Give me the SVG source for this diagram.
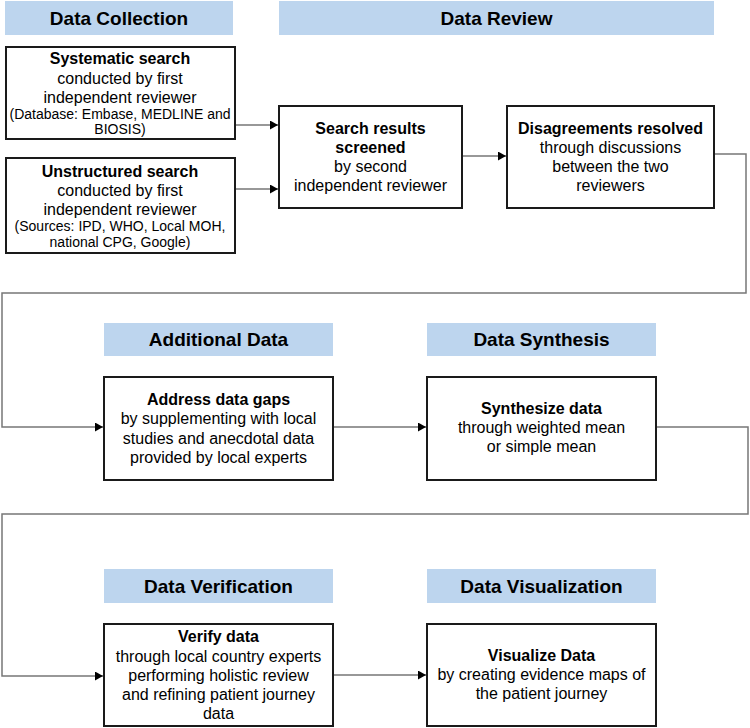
<svg xmlns="http://www.w3.org/2000/svg" width="750" height="728" viewBox="0 0 750 728">
<defs>
<marker id="arr" markerUnits="userSpaceOnUse" markerWidth="9" markerHeight="9" refX="8" refY="4.5" orient="auto">
<path d="M0,0 L8,4.5 L0,9 z" fill="#000"/>
</marker>
<style>
.hdr{fill:#bdd5ee;stroke:none}
.ht{font-family:"Liberation Sans",Arial,sans-serif;font-size:19px;font-weight:bold;fill:#000;text-anchor:middle}
.box{fill:#fff;stroke:#1a1a1a;stroke-width:2}
.t{font-family:"Liberation Sans",Arial,sans-serif;font-size:16px;fill:#000;text-anchor:middle}
.b{font-weight:bold}
.s{font-size:14px}
.c{fill:none;stroke:#333;stroke-width:1.2}
.cl{fill:none;stroke:#777;stroke-width:1.5}
</style>
</defs>
<rect width="750" height="728" fill="#fff"/>

<g id="hdr-collection"><rect class="hdr" x="5" y="1" width="228" height="34"/><text class="ht" x="119" y="25">Data Collection</text></g>
<g id="hdr-review"><rect class="hdr" x="279" y="1" width="435" height="34"/><text class="ht" x="496.5" y="25">Data Review</text></g>
<g id="hdr-additional"><rect class="hdr" x="104" y="323" width="229" height="33"/><text class="ht" x="218.5" y="346">Additional Data</text></g>
<g id="hdr-synthesis"><rect class="hdr" x="427" y="323" width="229" height="33"/><text class="ht" x="541.5" y="346">Data Synthesis</text></g>
<g id="hdr-verification"><rect class="hdr" x="104" y="569" width="229" height="34"/><text class="ht" x="218.5" y="593">Data Verification</text></g>
<g id="hdr-visualization"><rect class="hdr" x="427" y="569" width="229" height="34"/><text class="ht" x="541.5" y="593">Data Visualization</text></g>

<g id="connectors">
<path class="c" d="M235,125 H278" marker-end="url(#arr)"/>
<path class="c" d="M235,189 H278" marker-end="url(#arr)"/>
<path class="c" d="M462,156 H506" marker-end="url(#arr)"/>
<path class="cl" d="M714,154 H746 V293 H2 V427 H103" marker-end="url(#arr)"/>
<path class="c" d="M333,427 H426" marker-end="url(#arr)"/>
<path class="cl" d="M656,427 H748 V514 H2 V676 H103" marker-end="url(#arr)"/>
<path class="c" d="M333,675 H426" marker-end="url(#arr)"/>
</g>

<g id="systematic">
<rect class="box" x="6" y="47" width="229" height="92"/>
<text class="t b" x="120" y="64">Systematic search</text>
<text class="t" x="120" y="84">conducted by first</text>
<text class="t" x="120" y="103">independent reviewer</text>
<text class="t s" x="120" y="119">(Database: Embase, MEDLINE and</text>
<text class="t s" x="120" y="134">BIOSIS)</text>
</g>
<g id="unstructured">
<rect class="box" x="6" y="158" width="229" height="95"/>
<text class="t b" x="120" y="177">Unstructured search</text>
<text class="t" x="120" y="196">conducted by first</text>
<text class="t" x="120" y="215">independent reviewer</text>
<text class="t s" x="120" y="231">(Sources: IPD, WHO, Local MOH,</text>
<text class="t s" x="120" y="247">national CPG, Google)</text>
</g>
<g id="screened">
<rect class="box" x="279" y="106" width="183" height="102"/>
<text class="t b" x="370.5" y="134">Search results</text>
<text class="t b" x="370.5" y="153">screened</text>
<text class="t" x="370.5" y="172">by second</text>
<text class="t" x="370.5" y="191">independent reviewer</text>
</g>
<g id="disagreements">
<rect class="box" x="507" y="106" width="207" height="102"/>
<text class="t b" x="610.5" y="134">Disagreements resolved</text>
<text class="t" x="610.5" y="153">through discussions</text>
<text class="t" x="610.5" y="172">between the two</text>
<text class="t" x="610.5" y="191">reviewers</text>
</g>
<g id="address">
<rect class="box" x="104" y="377" width="229" height="103"/>
<text class="t b" x="218.5" y="405">Address data gaps</text>
<text class="t" x="218.5" y="424">by supplementing with local</text>
<text class="t" x="218.5" y="444">studies and anecdotal data</text>
<text class="t" x="218.5" y="463">provided by local experts</text>
</g>
<g id="synthesize">
<rect class="box" x="427" y="377" width="229" height="103"/>
<text class="t b" x="541.5" y="414">Synthesize data</text>
<text class="t" x="541.5" y="433">through weighted mean</text>
<text class="t" x="541.5" y="452">or simple mean</text>
</g>
<g id="verify">
<rect class="box" x="104" y="624" width="229" height="102"/>
<text class="t b" x="218.5" y="642">Verify data</text>
<text class="t" x="218.5" y="662">through local country experts</text>
<text class="t" x="218.5" y="681">performing holistic review</text>
<text class="t" x="218.5" y="700">and refining patient journey</text>
<text class="t" x="218.5" y="719">data</text>
</g>
<g id="visualize">
<rect class="box" x="427" y="624" width="229" height="102"/>
<text class="t b" x="541.5" y="661">Visualize Data</text>
<text class="t" x="541.5" y="680">by creating evidence maps of</text>
<text class="t" x="541.5" y="699">the patient journey</text>
</g>
</svg>
